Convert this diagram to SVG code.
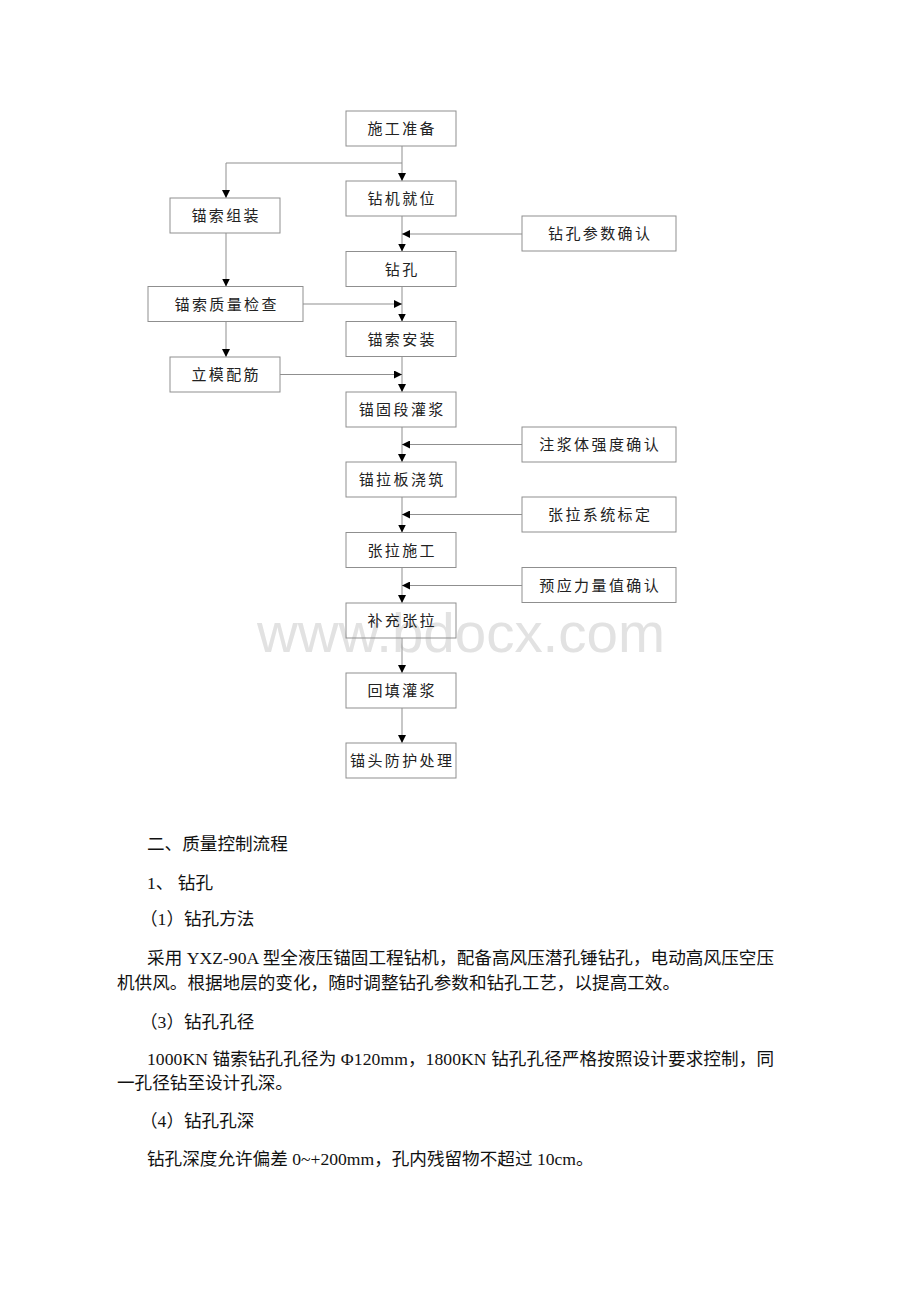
<svg xmlns="http://www.w3.org/2000/svg" width="920" height="1302" viewBox="0 0 920 1302">
<style>
.bx{fill:none;stroke:#8f8f8f;stroke-width:1}
.lb{font-family:"Noto Sans CJK SC","Liberation Serif",sans-serif;font-size:15px;fill:#222;text-anchor:middle;letter-spacing:2.4px}
.cn{fill:none;stroke:#8f8f8f;stroke-width:1}
.tx{font-family:"Liberation Serif","Noto Sans CJK SC",serif;font-size:17.6px;fill:#111}
.wm{font-family:"Liberation Sans",Arial,sans-serif;font-size:56px;fill:#e2e2e2}
</style>
<defs>
<marker id="ah" markerUnits="userSpaceOnUse" markerWidth="8" markerHeight="8" refX="8" refY="4" orient="auto">
<path d="M0,0 L8,4 L0,8 z" fill="#000"/>
</marker>
</defs>
<rect width="920" height="1302" fill="#fff"/>
<text class="wm" x="257" y="652" textLength="408" lengthAdjust="spacingAndGlyphs">www.bdocx.com</text>

<g id="connectors">
<path class="cn" d="M402,146 V181" marker-end="url(#ah)"/>
<path class="cn" d="M402,163 H226 V198" marker-end="url(#ah)"/>
<path class="cn" d="M402,216 V251.5" marker-end="url(#ah)"/>
<path class="cn" d="M522,234 H402" marker-end="url(#ah)"/>
<path class="cn" d="M402,286.5 V321.5" marker-end="url(#ah)"/>
<path class="cn" d="M303,304 H402" marker-end="url(#ah)"/>
<path class="cn" d="M226,233 V286.5" marker-end="url(#ah)"/>
<path class="cn" d="M226,321.5 V357" marker-end="url(#ah)"/>
<path class="cn" d="M402,356.5 V392" marker-end="url(#ah)"/>
<path class="cn" d="M280,374.5 H402" marker-end="url(#ah)"/>
<path class="cn" d="M402,427 V462" marker-end="url(#ah)"/>
<path class="cn" d="M522,444.5 H402" marker-end="url(#ah)"/>
<path class="cn" d="M402,497 V532.5" marker-end="url(#ah)"/>
<path class="cn" d="M522,514.5 H402" marker-end="url(#ah)"/>
<path class="cn" d="M402,567.5 V603" marker-end="url(#ah)"/>
<path class="cn" d="M522,585.5 H402" marker-end="url(#ah)"/>
<path class="cn" d="M402,638 V673" marker-end="url(#ah)"/>
<path class="cn" d="M402,708 V743" marker-end="url(#ah)"/>
</g>

<g id="n1"><rect class="bx" x="346" y="111" width="110" height="35"/><text class="lb" x="402.2" y="134">施工准备</text></g>
<g id="n2"><rect class="bx" x="346" y="181" width="110" height="35"/><text class="lb" x="402.2" y="204">钻机就位</text></g>
<g id="n3"><rect class="bx" x="346" y="251.5" width="110" height="35"/><text class="lb" x="402.2" y="274.5">钻孔</text></g>
<g id="n4"><rect class="bx" x="346" y="321.5" width="110" height="35"/><text class="lb" x="402.2" y="344.5">锚索安装</text></g>
<g id="n5"><rect class="bx" x="346" y="392" width="110" height="35"/><text class="lb" x="402.2" y="415">锚固段灌浆</text></g>
<g id="n6"><rect class="bx" x="346" y="462" width="110" height="35"/><text class="lb" x="402.2" y="485">锚拉板浇筑</text></g>
<g id="n7"><rect class="bx" x="346" y="532.5" width="110" height="35"/><text class="lb" x="402.2" y="555.5">张拉施工</text></g>
<g id="n8"><rect class="bx" x="346" y="603" width="110" height="35"/><text class="lb" x="402.2" y="626">补充张拉</text></g>
<g id="n9"><rect class="bx" x="346" y="673" width="110" height="35"/><text class="lb" x="402.2" y="696">回填灌浆</text></g>
<g id="n10"><rect class="bx" x="346" y="743" width="110" height="35"/><text class="lb" x="402.2" y="766">锚头防护处理</text></g>

<g id="r1"><rect class="bx" x="522" y="216" width="154" height="35"/><text class="lb" x="600.2" y="239">钻孔参数确认</text></g>
<g id="r2"><rect class="bx" x="522" y="427" width="154" height="35"/><text class="lb" x="600.2" y="450">注浆体强度确认</text></g>
<g id="r3"><rect class="bx" x="522" y="497" width="154" height="35"/><text class="lb" x="600.2" y="520">张拉系统标定</text></g>
<g id="r4"><rect class="bx" x="522" y="567.5" width="154" height="35"/><text class="lb" x="600.2" y="590.5">预应力量值确认</text></g>

<g id="l1"><rect class="bx" x="170" y="198" width="110" height="35"/><text class="lb" x="226.2" y="221">锚索组装</text></g>
<g id="l2"><rect class="bx" x="148" y="286.5" width="155" height="35"/><text class="lb" x="226.7" y="309.5">锚索质量检查</text></g>
<g id="l3"><rect class="bx" x="170" y="357" width="110" height="35"/><text class="lb" x="226.2" y="380">立模配筋</text></g>

<g id="body">
<text class="tx" x="147" y="850">二、质量控制流程</text>
<text class="tx" x="147" y="889">1、 钻孔</text>
<text class="tx" x="140" y="925">（1）钻孔方法</text>
<text class="tx" x="147" y="964" textLength="627" lengthAdjust="spacing">采用 YXZ-90A 型全液压锚固工程钻机，配备高风压潜孔锤钻孔，电动高风压空压</text>
<text class="tx" x="117" y="989">机供风。根据地层的变化，随时调整钻孔参数和钻孔工艺，以提高工效。</text>
<text class="tx" x="140" y="1028">（3）钻孔孔径</text>
<text class="tx" x="147" y="1065" textLength="627" lengthAdjust="spacing">1000KN 锚索钻孔孔径为 Φ120mm，1800KN 钻孔孔径严格按照设计要求控制，同</text>
<text class="tx" x="117" y="1089">一孔径钻至设计孔深。</text>
<text class="tx" x="140" y="1127">（4）钻孔孔深</text>
<text class="tx" x="147" y="1165">钻孔深度允许偏差 0~+200mm，孔内残留物不超过 10cm。</text>
</g>
</svg>
